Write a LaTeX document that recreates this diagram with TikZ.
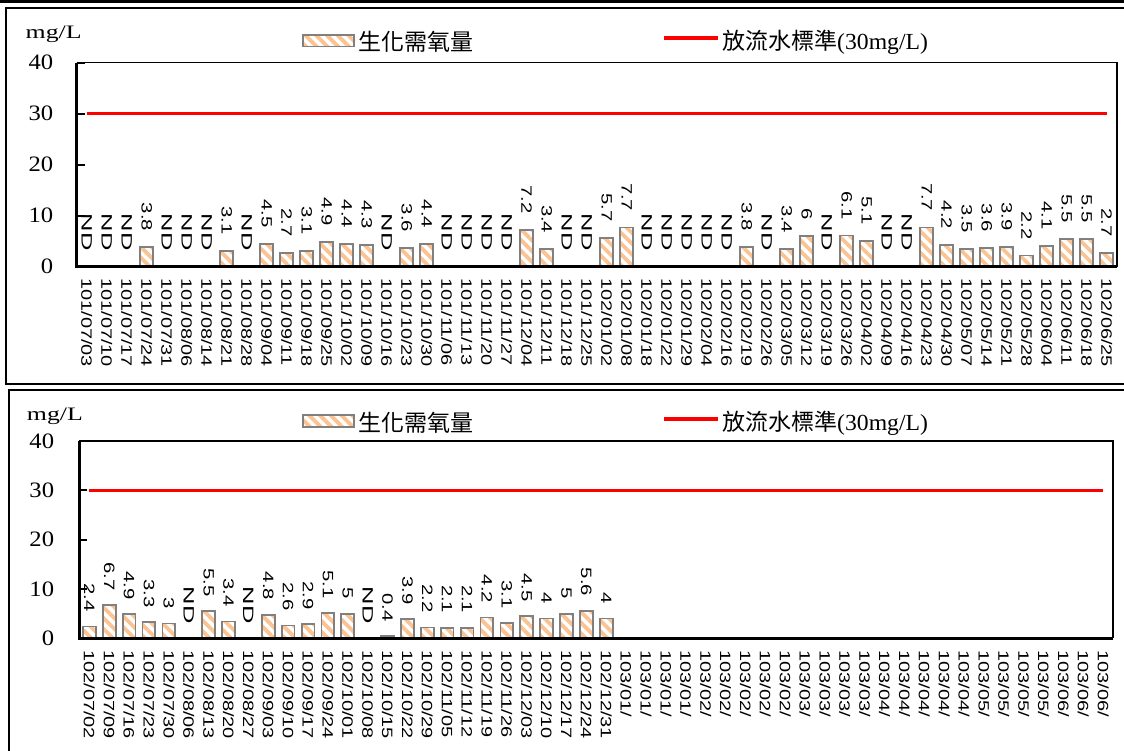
\documentclass[tikz,border=0pt]{standalone}
\usepackage{fontspec}
\setmainfont{Liberation Serif}
\newfontfamily\lsans{Liberation Sans}
\newfontfamily\cjk{Noto Sans CJK TC}
\usetikzlibrary{patterns.meta}
\definecolor{barorange}{RGB}{251,194,146}
\definecolor{bargray}{RGB}{128,128,128}
\definecolor{stdred}{RGB}{255,0,0}
\tikzset{
  frameline/.style={line width=2pt, black},
  topline/.style={line width=2.6pt, black},
  axisthick/.style={line width=2.6pt, black},
  axisthin/.style={line width=1.6pt, black},
  tickmark/.style={line width=2pt, black},
  stdline/.style={line width=3.6pt, stdred},
  barbox/.style={pattern={Lines[angle=-45,distance=7.6pt,line width=3.8pt]}, pattern color=barorange, draw=bargray, line width=1.8pt},
  ylab/.style={anchor=east, inner sep=0pt, font=\fontsize{22}{22}\selectfont},
  unitlab/.style={anchor=base west, inner sep=0pt, font=\fontsize{19}{19}\selectfont},
  datalab/.style={rotate=-90, anchor=east, inner sep=0pt, font=\lsans\fontsize{15}{15}\selectfont},
  catlab/.style={rotate=-90, anchor=west, inner sep=0pt, font=\lsans\fontsize{15}{15}\selectfont},
  legtext/.style={anchor=west, inner sep=0pt, font=\fontsize{23}{23}\selectfont}
}
\begin{document}
\begin{tikzpicture}[x=1pt,y=-1pt]
\useasboundingbox (0,0) rectangle (1124,751);
\clip (0,0) rectangle (1124,751);
% panel frames
\draw[topline] (-5,1.4) -- (1130,1.4);
\draw[frameline] (1130,8.3) -- (6.3,8.3) -- (6.3,384.3) -- (1130,384.3);
\draw[frameline] (1130,389.7) -- (9.3,389.7) -- (9.3,760);

% ================= TOP PANEL =================
\node[unitlab] (tunit) at (25.5,39) {\scalebox{1.36}[1]{mg/L}};
% legend
\draw[barbox] (303,35) rectangle (354,46.5);
\node[legtext] (tleg1) at (358,42) {\cjk 生化需氧量};
\coordinate (tl1) at (664,38);
\coordinate (tl2) at (718,38);
\draw[stdline] (tl1) -- (tl2);
\node[legtext] (tleg2) at (722,42) {\cjk 放流水標準\rmfamily\scalebox{1.03}[1]{(30mg/L)}};
% bars and data labels
\foreach \h/\t [count=\i] in {0/ND,0/ND,0/ND,3.8/3.8,0/ND,0/ND,0/ND,3.1/3.1,0/ND,4.5/4.5,2.7/2.7,3.1/3.1,4.9/4.9,4.4/4.4,4.3/4.3,0/ND,3.6/3.6,4.4/4.4,0/ND,0/ND,0/ND,0/ND,7.2/7.2,3.4/3.4,0/ND,0/ND,5.7/5.7,7.7/7.7,0/ND,0/ND,0/ND,0/ND,0/ND,3.8/3.8,0/ND,3.4/3.4,6/6,0/ND,6.1/6.1,5.1/5.1,0/ND,0/ND,7.7/7.7,4.2/4.2,3.5/3.5,3.6/3.6,3.9/3.9,2.2/2.2,4.1/4.1,5.5/5.5,5.5/5.5,2.7/2.7}{
  \pgfmathsetmacro{\cx}{76.7+(\i-0.5)*20}
  \pgfmathsetmacro{\ty}{266.7-\h*5.1}
  \ifdim \h pt>0pt
    \draw[barbox] (\cx-6.4,266.7) rectangle (\cx+6.4,\ty);
    \def\sc{1.35}
  \else
    \def\sc{1.7}
  \fi
  \node[datalab] (tv\i) at (\cx,\ty-16) {\scalebox{\sc}[1]{\t}};
}
% category labels
\foreach \t [count=\i] in {101/07/03,101/07/10,101/07/17,101/07/24,101/07/31,101/08/06,101/08/14,101/08/21,101/08/28,101/09/04,101/09/11,101/09/18,101/09/25,101/10/02,101/10/09,101/10/16,101/10/23,101/10/30,101/11/06,101/11/13,101/11/20,101/11/27,101/12/04,101/12/11,101/12/18,101/12/25,102/01/02,102/01/08,102/01/18,102/01/22,102/01/29,102/02/04,102/02/16,102/02/19,102/02/26,102/03/05,102/03/12,102/03/19,102/03/26,102/04/02,102/04/09,102/04/16,102/04/23,102/04/30,102/05/07,102/05/14,102/05/21,102/05/28,102/06/04,102/06/11,102/06/18,102/06/25}{
  \pgfmathsetmacro{\cx}{76.7+(\i-0.5)*20}
  \node[catlab] (tc\i) at (\cx,278) {\scalebox{1.33}[1]{\t}};
}
% axes
\draw[axisthin] (76.7,62.7) -- (1116.7,62.7) -- (1116.7,266.7);
\draw[axisthick] (76.7,62.7) -- (76.7,266.7) -- (1116.7,266.7);
\foreach \k in {0,...,4}{
  \draw[tickmark] (76.7,266.7-\k*51) -- ++(8,0);
  \pgfmathtruncatemacro{\lab}{\k*10}
  \node[ylab] (ty\k) at (53.5,266.7-\k*51) {\scalebox{1.12}[1]{\lab}};
}
\coordinate (ts1) at (86.7,113.7);
\coordinate (ts2) at (1106.7,113.7);
\draw[stdline] (ts1) -- (ts2);

% ================= BOTTOM PANEL =================
\node[unitlab] (bunit) at (26.7,420) {\scalebox{1.36}[1]{mg/L}};
\draw[barbox] (303,415) rectangle (354,427);
\node[legtext] (bleg1) at (358,423) {\cjk 生化需氧量};
\coordinate (bl1) at (664,419);
\coordinate (bl2) at (718,419);
\draw[stdline] (bl1) -- (bl2);
\node[legtext] (bleg2) at (722,423) {\cjk 放流水標準\rmfamily\scalebox{1.03}[1]{(30mg/L)}};
\foreach \h/\t [count=\i] in {2.4/2.4,6.7/6.7,4.9/4.9,3.3/3.3,3/3,0/ND,5.5/5.5,3.4/3.4,0/ND,4.8/4.8,2.6/2.6,2.9/2.9,5.1/5.1,5/5,0/ND,0.4/0.4,3.9/3.9,2.2/2.2,2.1/2.1,2.1/2.1,4.2/4.2,3.1/3.1,4.5/4.5,4/4,5/5,5.6/5.6,4/4}{
  \pgfmathsetmacro{\cx}{79.4+(\i-0.5)*19.88}
  \pgfmathsetmacro{\ty}{638.3-\h*4.93}
  \ifdim \h pt>0pt
    \draw[barbox] (\cx-6.4,638.3) rectangle (\cx+6.4,\ty);
    \def\sc{1.35}
  \else
    \def\sc{1.7}
  \fi
  \node[datalab] (bv\i) at (\cx,\ty-14.5) {\scalebox{\sc}[1]{\t}};
}
\foreach \t [count=\i] in {102/07/02,102/07/09,102/07/16,102/07/23,102/07/30,102/08/06,102/08/13,102/08/20,102/08/27,102/09/03,102/09/10,102/09/17,102/09/24,102/10/01,102/10/08,102/10/15,102/10/22,102/10/29,102/11/05,102/11/12,102/11/19,102/11/26,102/12/03,102/12/10,102/12/17,102/12/24,102/12/31,103/01/,103/01/,103/01/,103/01/,103/02/,103/02/,103/02/,103/02/,103/02/,103/03/,103/03/,103/03/,103/03/,103/04/,103/04/,103/04/,103/04/,103/04/,103/05/,103/05/,103/05/,103/05/,103/06/,103/06/,103/06/}{
  \pgfmathsetmacro{\cx}{79.4+(\i-0.5)*19.88}
  \node[catlab] (bc\i) at (\cx,650) {\scalebox{1.33}[1]{\t}};
}
\draw[axisthin] (79.4,441) -- (1113.2,441) -- (1113.2,638.3);
\draw[axisthick] (79.4,441) -- (79.4,638.3) -- (1113.2,638.3);
\foreach \k in {0,...,4}{
  \draw[tickmark] (79.4,638.3-\k*49.33) -- ++(8,0);
  \pgfmathtruncatemacro{\lab}{\k*10}
  \node[ylab] (by\k) at (54.3,638.3-\k*49.33) {\scalebox{1.12}[1]{\lab}};
}
\coordinate (bs1) at (89.3,490.4);
\coordinate (bs2) at (1103.3,490.4);
\draw[stdline] (bs1) -- (bs2);
\end{tikzpicture}
\end{document}
